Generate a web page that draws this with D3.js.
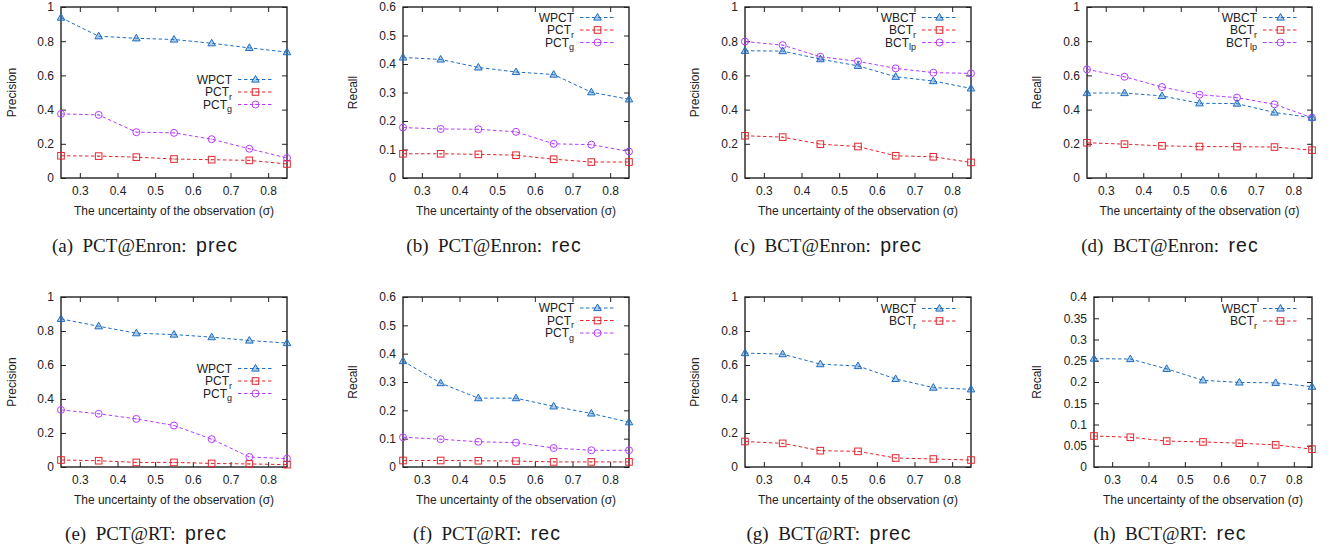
<!DOCTYPE html>
<html>
<head>
<meta charset="utf-8">
<script src="https://cdn.jsdelivr.net/npm/d3@7/dist/d3.min.js"></script>
<style>
  html, body { margin: 0; padding: 0; background: #fff; }
  svg { display: block; }
  .tick text { font-family: "Liberation Sans", Arial, sans-serif; font-size: 12px; fill: #222; }
</style>
</head>
<body>
<svg id="chart" width="1332" height="552"></svg>
<script>
// ---------------- data ----------------
const sigma = [0.25, 0.35, 0.45, 0.55, 0.65, 0.75, 0.85];
const xTicks = [0.3, 0.4, 0.5, 0.6, 0.7, 0.8];

// (a) PCT@Enron precision
const aWPCT = [0.938, 0.829, 0.817, 0.810, 0.788, 0.761, 0.736];
const aPCTr = [0.130, 0.128, 0.122, 0.111, 0.107, 0.103, 0.082];
const aPCTg = [0.375, 0.369, 0.268, 0.264, 0.227, 0.171, 0.117];
// (b) PCT@Enron recall
const bWPCT = [0.423, 0.416, 0.388, 0.372, 0.363, 0.301, 0.276];
const bPCTr = [0.085, 0.085, 0.083, 0.080, 0.066, 0.056, 0.056];
const bPCTg = [0.177, 0.172, 0.171, 0.162, 0.120, 0.117, 0.093];
// (c) BCT@Enron precision
const cWBCT = [0.744, 0.742, 0.695, 0.656, 0.592, 0.567, 0.524];
const cBCTr = [0.247, 0.239, 0.198, 0.184, 0.130, 0.124, 0.091];
const cBCTlp = [0.798, 0.777, 0.709, 0.682, 0.641, 0.616, 0.612];
// (d) BCT@Enron recall
const dWBCT = [0.497, 0.497, 0.480, 0.437, 0.435, 0.383, 0.353];
const dBCTr = [0.206, 0.198, 0.188, 0.184, 0.183, 0.181, 0.163];
const dBCTlp = [0.635, 0.592, 0.532, 0.487, 0.470, 0.431, 0.353];
// (e) PCT@RT precision
const eWPCT = [0.871, 0.828, 0.787, 0.779, 0.764, 0.744, 0.729];
const ePCTr = [0.041, 0.037, 0.027, 0.027, 0.021, 0.018, 0.014];
const ePCTg = [0.336, 0.313, 0.283, 0.244, 0.164, 0.059, 0.049];
// (f) PCT@RT recall
const fWPCT = [0.374, 0.296, 0.243, 0.243, 0.214, 0.189, 0.158];
const fPCTr = [0.023, 0.023, 0.022, 0.021, 0.018, 0.018, 0.018];
const fPCTg = [0.105, 0.098, 0.089, 0.086, 0.067, 0.059, 0.059];
// (g) BCT@RT precision
const gWBCT = [0.670, 0.664, 0.605, 0.594, 0.518, 0.467, 0.457];
const gBCTr = [0.150, 0.139, 0.096, 0.092, 0.053, 0.047, 0.041];
// (h) BCT@RT recall
const hWBCT = [0.255, 0.254, 0.231, 0.204, 0.199, 0.198, 0.189];
const hBCTr = [0.073, 0.070, 0.061, 0.059, 0.056, 0.052, 0.042];

const yTicks1 = [0, 0.2, 0.4, 0.6, 0.8, 1];
const yTicks06 = [0, 0.1, 0.2, 0.3, 0.4, 0.5, 0.6];
const yTicks04 = [0, 0.05, 0.1, 0.15, 0.2, 0.25, 0.3, 0.35, 0.4];

const captions = ["(a)", "(b)", "(c)", "(d)", "(e)", "(f)", "(g)", "(h)"];
const captionMain = ["PCT@Enron:", "PCT@Enron:", "BCT@Enron:", "BCT@Enron:", "PCT@RT:", "PCT@RT:", "BCT@RT:", "BCT@RT:"];
const captionMetric = ["prec", "rec", "prec", "rec", "prec", "rec", "prec", "rec"];
const yLabels = ["Precision", "Recall", "Precision", "Recall", "Precision", "Recall", "Precision", "Recall"];
const xLabel = "The uncertainty of the observation (\u03c3)";

// ---------------- styles ----------------
const COL = { blue: "#1f6fc0", red: "#e3262d", purple: "#b53cff" };
const SANS = "'Liberation Sans', Arial, sans-serif";
const SERIF = "'Liberation Serif', 'Times New Roman', serif";

// series definitions: [name, subscript, values, color, marker]
const panels = [
  { box: [61, 287, 7, 178], yMax: 1, yt: yTicks1, legTop: 79.5, cx: 145, ylx: 12,
    series: [["WPCT", "", aWPCT, COL.blue, "tri"], ["PCT", "r", aPCTr, COL.red, "sq"], ["PCT", "g", aPCTg, COL.purple, "ci"]] },
  { box: [403, 629, 7, 178], yMax: 0.6, yt: yTicks06, legTop: 17.5, cx: 494, ylx: 353,
    series: [["WPCT", "", bWPCT, COL.blue, "tri"], ["PCT", "r", bPCTr, COL.red, "sq"], ["PCT", "g", bPCTg, COL.purple, "ci"]] },
  { box: [745, 971, 7, 178], yMax: 1, yt: yTicks1, legTop: 17.5, cx: 828, ylx: 695,
    series: [["WBCT", "", cWBCT, COL.blue, "tri"], ["BCT", "r", cBCTr, COL.red, "sq"], ["BCT", "lp", cBCTlp, COL.purple, "ci"]] },
  { box: [1087, 1312, 7, 178], yMax: 1, yt: yTicks1, legTop: 17.5, cx: 1170, ylx: 1037,
    series: [["WBCT", "", dWBCT, COL.blue, "tri"], ["BCT", "r", dBCTr, COL.red, "sq"], ["BCT", "lp", dBCTlp, COL.purple, "ci"]] },
  { box: [61, 287, 297, 467], yMax: 1, yt: yTicks1, legTop: 368.5, cx: 146, ylx: 12,
    series: [["WPCT", "", eWPCT, COL.blue, "tri"], ["PCT", "r", ePCTr, COL.red, "sq"], ["PCT", "g", ePCTg, COL.purple, "ci"]] },
  { box: [403, 629, 297, 467], yMax: 0.6, yt: yTicks06, legTop: 308, cx: 487, ylx: 353,
    series: [["WPCT", "", fWPCT, COL.blue, "tri"], ["PCT", "r", fPCTr, COL.red, "sq"], ["PCT", "g", fPCTg, COL.purple, "ci"]] },
  { box: [745, 971, 297, 467], yMax: 1, yt: yTicks1, legTop: 308.5, cx: 829, ylx: 695,
    series: [["WBCT", "", gWBCT, COL.blue, "tri"], ["BCT", "r", gBCTr, COL.red, "sq"]] },
  { box: [1094, 1312, 297, 467], yMax: 0.4, yt: yTicks04, legTop: 308.5, cx: 1170, ylx: 1037,
    series: [["WBCT", "", hWBCT, COL.blue, "tri"], ["BCT", "r", hBCTr, COL.red, "sq"]] }
];

const svg = d3.select("#chart");

function drawMarker(g, type, x, y, color) {
  if (type === "tri") {
    g.append("path").attr("d", `M${x},${y - 4}L${x + 3.8},${y + 2.6}L${x - 3.8},${y + 2.6}Z`)
      .attr("fill", color).attr("fill-opacity", 0.35).attr("stroke", color).attr("stroke-width", 1);
  } else if (type === "sq") {
    g.append("rect").attr("x", x - 3.3).attr("y", y - 3.3).attr("width", 6.6).attr("height", 6.6)
      .attr("fill", "none").attr("stroke", color).attr("stroke-width", 1);
    g.append("line").attr("x1", x - 0.8).attr("x2", x + 0.8).attr("y1", y).attr("y2", y)
      .attr("stroke", color).attr("stroke-width", 0.8);
  } else {
    g.append("circle").attr("cx", x).attr("cy", y).attr("r", 3.5)
      .attr("fill", "none").attr("stroke", color).attr("stroke-width", 1);
    g.append("line").attr("x1", x - 0.8).attr("x2", x + 0.8).attr("y1", y).attr("y2", y)
      .attr("stroke", color).attr("stroke-width", 0.8);
  }
}

const fmt = d3.format("~g");

panels.forEach((p, i) => {
  const [L, R, T, B] = p.box;
  const x = d3.scaleLinear().domain([0.25, 0.85]).range([L, R]);
  const y = d3.scaleLinear().domain([0, p.yMax]).range([B, T]);
  const g = svg.append("g");

  // axes (ticks inside, mirrored)
  const ax = g.append("g").attr("transform", `translate(0,${B})`)
    .call(d3.axisBottom(x).tickValues(xTicks).tickSize(-5).tickPadding(8).tickFormat(fmt));
  const axT = g.append("g").attr("transform", `translate(0,${T})`)
    .call(d3.axisTop(x).tickValues(xTicks).tickSize(-5).tickFormat(""));
  const ay = g.append("g").attr("transform", `translate(${L},0)`)
    .call(d3.axisLeft(y).tickValues(p.yt).tickSize(-5).tickPadding(7).tickFormat(fmt));
  const ayR = g.append("g").attr("transform", `translate(${R},0)`)
    .call(d3.axisRight(y).tickValues(p.yt).tickSize(-5).tickFormat(""));
  [ax, axT, ay, ayR].forEach(a => {
    a.select(".domain").remove();
    a.selectAll(".tick line").attr("stroke", "#222").attr("stroke-width", 1);
  });
  ax.selectAll(".tick text").attr("dy", "0.71em");

  // frame
  g.append("rect").attr("x", L).attr("y", T).attr("width", R - L).attr("height", B - T)
    .attr("fill", "none").attr("stroke", "#222").attr("stroke-width", 1.4);

  // series (draw in reverse so first is on top)
  const line = d3.line().x((d, k) => x(sigma[k])).y(d => y(d));
  p.series.slice().reverse().forEach(s => {
    const [name, sub, vals, color, mk] = s;
    g.append("path").datum(vals).attr("d", line).attr("fill", "none")
      .attr("stroke", color).attr("stroke-width", 1).attr("stroke-dasharray", "3.5,2.5");
    vals.forEach((v, k) => drawMarker(g, mk, x(sigma[k]), y(v), color));
  });

  // legend
  p.series.forEach((s, k) => {
    const [name, sub, vals, color, mk] = s;
    const ly = p.legTop + k * 12.5;
    const tx = R - 55;
    const t = g.append("text").attr("x", tx).attr("y", ly).attr("dy", "0.35em")
      .attr("text-anchor", "end").attr("font-family", SANS).attr("font-size", 12).attr("fill", "#222");
    t.append("tspan").text(name);
    if (sub) t.append("tspan").attr("font-size", 9).attr("dy", 3.5).text(sub);
    g.append("line").attr("x1", R - 49).attr("x2", R - 14).attr("y1", ly).attr("y2", ly)
      .attr("stroke", color).attr("stroke-width", 1).attr("stroke-dasharray", "3.5,2.5");
    drawMarker(g, mk, R - 31.5, ly, color);
  });

  // axis labels
  g.append("text").attr("x", (L + R) / 2).attr("y", B + 33).attr("dy", "0.35em")
    .attr("text-anchor", "middle").attr("font-family", SANS).attr("font-size", 12).attr("fill", "#222")
    .text(xLabel);
  g.append("text").attr("transform", `translate(${p.ylx},${(T + B) / 2}) rotate(-90)`)
    .attr("dy", "0.35em").attr("text-anchor", "middle").attr("font-family", SANS)
    .attr("font-size", 12).attr("fill", "#222").text(yLabels[i]);

  // caption
  const cy = i < 4 ? 245 : 533;
  const cap = g.append("text").attr("x", p.cx).attr("y", cy).attr("dy", "0.35em")
    .attr("text-anchor", "middle").attr("font-family", SERIF).attr("font-size", 19).attr("fill", "#1a1a1a");
  cap.append("tspan").text(captions[i] + "\u2002" + captionMain[i] + "\u2002");
  cap.append("tspan").attr("font-family", SANS).attr("font-size", 19.5).attr("letter-spacing", 1).text(captionMetric[i]);
});
</script>
</body>
</html>
